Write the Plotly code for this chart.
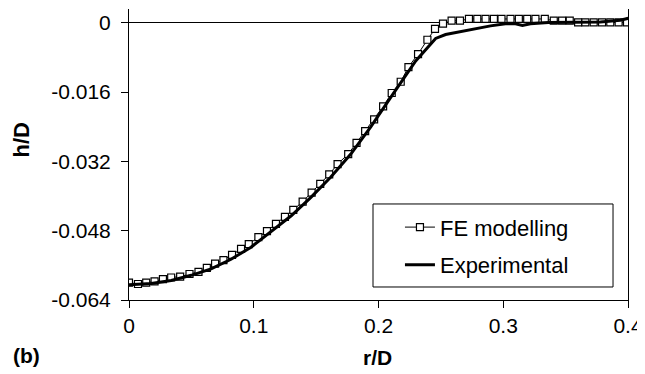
import plotly.graph_objects as go

# FE modelling (open squares)
fe_r = [0.0000, 0.0072, 0.0138, 0.0205, 0.0272, 0.0338, 0.0410, 0.0485, 0.0557, 0.0624,
        0.0690, 0.0757, 0.0826, 0.0898, 0.0960, 0.1037, 0.1106, 0.1178, 0.1250, 0.1317,
        0.1392, 0.1464, 0.1533, 0.1605, 0.1672, 0.1757, 0.1824, 0.1893, 0.1965, 0.2037,
        0.2106, 0.2178, 0.2240, 0.2317, 0.2392, 0.2453, 0.2517, 0.2586, 0.2653, 0.2725,
        0.2792, 0.2858, 0.2925, 0.2986, 0.3058, 0.3125, 0.3192, 0.3258, 0.3333, 0.3405,
        0.3472, 0.3533, 0.3600, 0.3658, 0.3725, 0.3792, 0.3858, 0.3925, 0.3992]
fe_h = [-0.0600, -0.0603, -0.0600, -0.0597, -0.0592, -0.0588, -0.0586, -0.0580, -0.0575, -0.0566,
        -0.0556, -0.0548, -0.0536, -0.0522, -0.0511, -0.0495, -0.0481, -0.0464, -0.0448, -0.0432,
        -0.0413, -0.0392, -0.0372, -0.0350, -0.0326, -0.0303, -0.0277, -0.0250, -0.0223, -0.0193,
        -0.0162, -0.0136, -0.0102, -0.0072, -0.0039, -0.0014, -0.0002, 0.0005, 0.0005, 0.0009,
        0.0009, 0.0009, 0.0009, 0.0009, 0.0009, 0.0009, 0.0009, 0.0009, 0.0009, 0.0005,
        0.0005, 0.0005, 0.0001, 0.0001, 0.0001, 0.0001, 0.0001, 0.0001, 0.0001]

# Experimental (thick line)
exp_r = [0.0000, 0.0178, 0.0338, 0.0498, 0.0658, 0.0818, 0.0978, 0.1138, 0.1298, 0.1458,
         0.1618, 0.1778, 0.1938, 0.2098, 0.2218, 0.2298, 0.2378, 0.2458, 0.2538, 0.2658,
         0.2778, 0.2898, 0.3018, 0.3098, 0.3154, 0.3218, 0.3362, 0.3538, 0.3778, 0.3938, 0.4066]
exp_h = [-0.0605, -0.0602, -0.0595, -0.0583, -0.0568, -0.0546, -0.0518, -0.0483, -0.0446, -0.0403,
         -0.0356, -0.0303, -0.0240, -0.0172, -0.0122, -0.0088, -0.0062, -0.0036, -0.0027, -0.0020,
         -0.0013, -0.0007, -0.0002, -0.0002, -0.0006, -0.0002, 0.0001, 0.0001, 0.0002, 0.0006, 0.0015]

x_ticks = [0, 0.1, 0.2, 0.3, 0.4]
x_tick_labels = ["0", "0.1", "0.2", "0.3", "0.4"]
y_ticks = [0, -0.016, -0.032, -0.048, -0.064]
y_tick_labels = ["0", "-0.016", "-0.032", "-0.048", "-0.064"]

FONT = "Liberation Sans, Arial, sans-serif"

fig = go.Figure()
fig.add_trace(go.Scatter(
    x=fe_r, y=fe_h, mode="lines+markers", name="FE modelling",
    line=dict(color="black", width=1),
    marker=dict(symbol="square", size=7, color="white", line=dict(color="black", width=1.2)),
    legendgroup="a",
))
fig.add_trace(go.Scatter(
    x=exp_r, y=exp_h, mode="lines", name="Experimental",
    line=dict(color="black", width=3),
    legendgroup="b",
))

# The page body adds an 8px offset, so the figure is 8px smaller than the window.
fig.update_layout(
    width=637, height=366,
    margin=dict(l=121, r=17, t=1, b=74, autoexpand=False),
    paper_bgcolor="white", plot_bgcolor="white",
    font=dict(family=FONT, size=21, color="black"),
    showlegend=True,
    legend=dict(
        x=0.543, y=0.322, xanchor="left", yanchor="top",
        borderwidth=0, bgcolor="rgba(0,0,0,0)",
        font=dict(family=FONT, size=22, color="black"),
        traceorder="grouped", tracegroupgap=6,
    ),
    xaxis=dict(
        range=[0, 0.4], tickvals=x_ticks, ticktext=x_tick_labels, automargin=False,
        showgrid=False, zeroline=False, showline=True, linecolor="black", linewidth=1,
        ticks="outside", ticklen=7, tickcolor="black", tickwidth=1,
    ),
    yaxis=dict(
        range=[-0.064, 0.0032], tickvals=y_ticks, ticktext=y_tick_labels, automargin=False,
        showgrid=False, zeroline=True, zerolinecolor="black", zerolinewidth=1,
        showline=True, linecolor="black", linewidth=1, mirror=True,
        ticks="outside", ticklen=7, tickcolor="black", tickwidth=1,
        ticklabelstandoff=6,
    ),
    shapes=[
        dict(type="rect", xref="paper", yref="paper", x0=0.489, x1=0.970, y0=0.0447, y1=0.330,
             line=dict(color="black", width=1), fillcolor="white", layer="above"),
    ],
    annotations=[
        dict(text="<b>h/D</b>", xref="paper", yref="paper", x=-0.2144, y=0.548,
             textangle=-90, showarrow=False, xanchor="center", yanchor="middle",
             font=dict(family=FONT, size=22)),
        dict(text="<b>r/D</b>", xref="paper", yref="paper", x=0.497, y=-0.199,
             showarrow=False, xanchor="center", yanchor="middle",
             font=dict(family=FONT, size=21)),
        dict(text="<b>(b)</b>", xref="paper", yref="paper", x=-0.206, y=-0.192,
             showarrow=False, xanchor="center", yanchor="middle",
             font=dict(family=FONT, size=21)),
    ],
)

fig.write_html("out.html")
